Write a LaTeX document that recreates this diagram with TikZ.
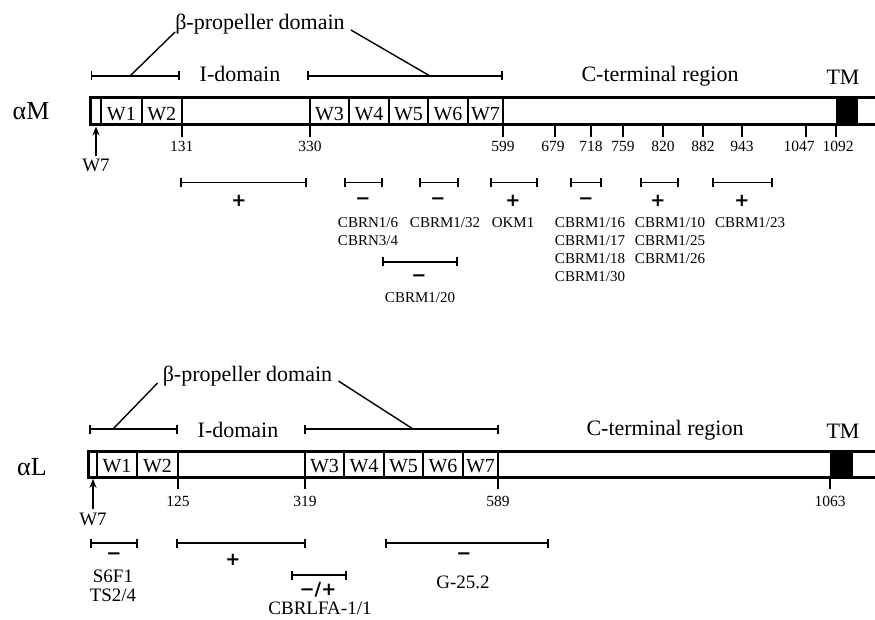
\documentclass[tikz,border=0pt]{standalone}
\usepackage{fontspec}
\setmainfont{Liberation Serif}
\newfontfamily\signfont{DejaVu Sans}
\usepackage{tikz}
\usetikzlibrary{arrows.meta,positioning}
\tikzstyle{barbox} = [line width=3pt]
\tikzstyle{wline} = [line width=2.4pt]
\tikzstyle{tickline} = [line width=1.8pt]
\tikzstyle{seg} = [line width=1.6pt,{Bar[width=9pt,line width=1.6pt]}-{Bar[width=9pt,line width=1.6pt]}]
\tikzstyle{pointer} = [line width=1.4pt]
\tikzstyle{arr} = [line width=1.6pt,-{Stealth[length=9pt,width=7pt]}]
\tikzstyle{big} = [inner sep=0pt,font=\fontsize{22}{26}\selectfont]
\tikzstyle{chain} = [inner sep=0pt,font=\fontsize{26}{30}\selectfont]
\tikzstyle{wtxt} = [inner sep=0pt,font=\fontsize{20}{24}\selectfont]
\tikzstyle{num} = [inner sep=0pt,font=\fontsize{15.5}{18}\selectfont]
\tikzstyle{ab} = [inner sep=0pt,align=center,font=\fontsize{15}{18}\selectfont]
\tikzstyle{abL} = [inner sep=0pt,align=center,font=\fontsize{19}{19}\selectfont]
\tikzstyle{signtxt} = [inner sep=0pt,font=\signfont\bfseries\fontsize{18}{20}\selectfont]

\begin{document}
\begin{tikzpicture}[x=1pt,y=-1pt]
\useasboundingbox (0,0) rectangle (875,620);

%%%%%%%%%%%%%%%% alpha M %%%%%%%%%%%%%%%%
\node[chain, anchor=base] (aM) at (31,120) {αM};

% domain brackets
\draw[seg] (90.7,76) -- (180,76);
\draw[seg] (307,76) -- (503,76);
\node[big, anchor=base] (idomM) at (240,82) {I-domain};
\node[big, anchor=base] (ctermM) at (660,82) {C-terminal region};
\node[big, anchor=base] (tmM) at (843,85) {TM};
\node[big, anchor=base] (betaM) at (260,30) {β-propeller domain};
\coordinate (pM1) at (130,76);
\coordinate (pM2) at (430,76);
\draw[pointer] ([xshift=0pt,yshift=-2pt]betaM.base west) -- (pM1);
\draw[pointer] ([xshift=6pt]betaM.base east) -- (pM2);

% the chain
\fill (836,98) rectangle (858,125);
\draw[barbox] (90.7,98) rectangle (880,125);
\foreach \x in {101,141.7,181.7,310,349,389,428,468,503}
  \draw[wline] (\x,98) -- (\x,125);
\foreach \x/\w in {121.4/1,161.7/2,329.5/3,369/4,408.5/5,448/6,485.5/7}
  \node[wtxt, anchor=base] (mW\w) at (\x,121) {W\w};

% residue numbers
\foreach \x/\n in {181.7/131,310/330,503/599,555/679,591/718,623/759,663/820,703/882,742/943,806/1047,836/1092}
  \draw[tickline] (\x,125) -- (\x,137);
\foreach \x/\n in {181.7/131,310/330,503/599,553/679,591/718,623/759,663/820,703/882,742/943,799/1047,838/1092}
  \node[num, anchor=base] (mn\n) at (\x,152) {\n};

% W7 pointer
\node[wtxt, anchor=base, font=\fontsize{19}{22}\selectfont] (mW7lab) at (96,172) {W7};
\coordinate (mW7pt) at (96,126.5);
\draw[arr] ([yshift=3pt]mW7lab.north) -- (mW7pt);

% antibody epitopes
\draw[seg] (180,182.5) -- (307,182.5);
\draw[seg] (344,182.5) -- (383,182.5);
\draw[seg] (419,182.5) -- (459,182.5);
\draw[seg] (490,182.5) -- (538,182.5);
\draw[seg] (570,182.5) -- (602,182.5);
\draw[seg] (640,182.5) -- (679,182.5);
\draw[seg] (712,182.5) -- (773,182.5);
\draw[seg] (382,262) -- (458,262);

\node[signtxt] (msg1) at (239,201) {+};
\node[signtxt] (msg2) at (363,201) {−};
\node[signtxt] (msg3) at (438,201) {−};
\node[signtxt] (msg4) at (513,201) {+};
\node[signtxt] (msg5) at (586,201) {−};
\node[signtxt] (msg6) at (658,201) {+};
\node[signtxt] (msg7) at (742,201) {+};
\node[signtxt] (msg8) at (419,278) {−};

\node[ab, anchor=north] (mab1) at (368,217) {CBRN1/6\\CBRN3/4};
\node[ab, anchor=north] (mab2) at (445,217) {CBRM1/32};
\node[ab, anchor=north] (mab3) at (513,217) {OKM1};
\node[ab, anchor=north] (mab4) at (590,217) {CBRM1/16\\CBRM1/17\\CBRM1/18\\CBRM1/30};
\node[ab, anchor=north] (mab5) at (670,217) {CBRM1/10\\CBRM1/25\\CBRM1/26};
\node[ab, anchor=north] (mab6) at (750,217) {CBRM1/23};
\node[ab, anchor=base] (mab7) at (420,302) {CBRM1/20};

%%%%%%%%%%%%%%%% alpha L %%%%%%%%%%%%%%%%
\node[chain, anchor=base] (aL) at (32,475) {αL};

% domain brackets
\draw[seg] (89,429) -- (178,429);
\draw[seg] (304,429) -- (499,429);
\node[big, anchor=base] (idomL) at (238,437) {I-domain};
\node[big, anchor=base] (ctermL) at (665,435) {C-terminal region};
\node[big, anchor=base] (tmL) at (843,438) {TM};
\node[big, anchor=base] (betaL) at (247.5,381) {β-propeller domain};
\coordinate (pL1) at (113,429);
\coordinate (pL2) at (413,429);
\draw[pointer] ([xshift=-5pt,yshift=-2pt]betaL.base west) -- (pL1);
\draw[pointer] ([xshift=6pt]betaL.base east) -- (pL2);

% the chain
\fill (830,451) rectangle (853,477.3);
\draw[barbox] (88,451) rectangle (880,477.3);
\foreach \x in {97,137,178,305,344,384,423,463,498}
  \draw[wline] (\x,451) -- (\x,477.3);
\foreach \x/\w in {117/1,157.5/2,324.5/3,364/4,403.5/5,443/6,480.5/7}
  \node[wtxt, anchor=base] (lW\w) at (\x,472) {W\w};

% residue numbers
\foreach \x/\n in {178/125,305/319,498/589,830/1063} {
  \draw[tickline] (\x,477.3) -- (\x,489);
  \node[num, anchor=base] (ln\n) at (\x,506) {\n};
}

% W7 pointer
\node[wtxt, anchor=base, font=\fontsize{19}{22}\selectfont] (lW7lab) at (93,525) {W7};
\coordinate (lW7pt) at (93,478.8);
\draw[arr] ([yshift=3pt]lW7lab.north) -- (lW7pt);

% antibody epitopes
\draw[seg] (90,543) -- (138,543);
\draw[seg] (176,543) -- (306,543);
\draw[seg] (385,543) -- (549,543);
\draw[seg] (291,575) -- (347,575);

\node[signtxt] (lsg1) at (114,556) {−};
\node[signtxt] (lsg2) at (233,560) {+};
\node[signtxt] (lsg3) at (464,556) {−};
\node[signtxt] (lsg4) at (318,590) {−/+};

\node[abL, anchor=north] (lab1) at (113,570) {S6F1\\TS2/4};
\node[abL, anchor=base] (lab2) at (463,588) {G-25.2};
\node[abL, anchor=base] (lab3) at (320,614) {CBRLFA-1/1};

\end{tikzpicture}
\end{document}
